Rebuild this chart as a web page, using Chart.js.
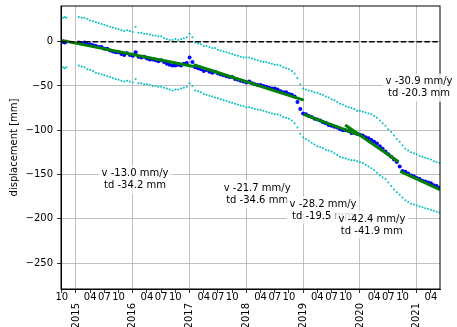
<!DOCTYPE html>
<html>
<head>
<meta charset="utf-8">
<script src="https://cdn.jsdelivr.net/npm/chart.js@4"></script>
<style>
  html, body { margin: 0; padding: 0; background: #fff; }
  #wrap { width: 457px; height: 327px; }
</style>
</head>
<body>
<div id="wrap"><canvas id="chart" width="457" height="327"></canvas></div>
<script>
/* observation dates (decimal year) */
const dates = [2014.77, 2014.80, 2014.83,
  2015.05, 2015.10, 2015.15, 2015.20, 2015.25, 2015.30, 2015.35, 2015.40, 2015.45, 2015.50,
  2015.55, 2015.60, 2015.65, 2015.70, 2015.75, 2015.80, 2015.85, 2015.90, 2015.95,
  2016.00, 2016.05, 2016.10, 2016.15, 2016.20, 2016.25, 2016.30, 2016.35, 2016.40, 2016.45,
  2016.50, 2016.55, 2016.60, 2016.65, 2016.70, 2016.75, 2016.80, 2016.85, 2016.90, 2016.95,
  2017.00, 2017.05, 2017.10, 2017.15, 2017.20, 2017.25, 2017.30, 2017.35, 2017.40, 2017.45,
  2017.50, 2017.55, 2017.60, 2017.65, 2017.70, 2017.75, 2017.80, 2017.85, 2017.90, 2017.95,
  2018.00, 2018.05, 2018.10, 2018.15, 2018.20, 2018.25, 2018.30, 2018.35, 2018.40, 2018.45,
  2018.50, 2018.55, 2018.60, 2018.65, 2018.70, 2018.75, 2018.80, 2018.85, 2018.90, 2018.95,
  2019.00, 2019.05, 2019.10, 2019.15, 2019.20, 2019.25, 2019.30, 2019.35, 2019.40, 2019.45,
  2019.50, 2019.55, 2019.60, 2019.65, 2019.70, 2019.75, 2019.80, 2019.85, 2019.90, 2019.95,
  2020.00, 2020.05, 2020.10, 2020.15, 2020.20, 2020.25, 2020.30, 2020.35, 2020.40, 2020.45,
  2020.50, 2020.55, 2020.60, 2020.65, 2020.70, 2020.75, 2020.80, 2020.85, 2020.90, 2020.95,
  2021.00, 2021.05, 2021.10, 2021.15, 2021.20, 2021.25, 2021.30, 2021.35, 2021.40];

/* displacement [mm] */
const displacement = [0, -1, 0,
  -1, -2, -1, -3, -3, -4, -5, -6, -6, -8, -8, -10, -11, -12, -12, -14, -15, -13, -15,
  -16, -12, -17, -18, -17, -19, -20, -20, -21, -22, -21, -23, -25, -26, -27, -27, -26, -27, -25, -24,
  -18, -23, -29, -30, -31, -33, -32, -34, -35, -34, -36, -37, -38, -39, -40, -40, -42, -43, -44, -45,
  -46, -45, -47, -48, -49, -49, -50, -51, -52, -53, -53, -54, -56, -57, -57, -59, -60, -62, -68, -76,
  -81, -82, -84, -85, -87, -88, -89, -91, -92, -94, -95, -96, -97, -99, -100, -100, -101, -103, -103, -104,
  -105, -106, -108, -109, -111, -113, -115, -118, -121, -124, -127, -130, -133, -136, -141, -146, -147, -149, -151, -152,
  -154, -155, -157, -158, -159, -160, -162, -163, -165];

const upperBand = [27, 28, 27,
  28, 27, 27, 26, 24, 23, 22, 21, 20, 19, 18, 17, 16, 15, 14, 13, 12, 13, 12,
  11, 17, 10, 10, 9, 9, 8, 7, 7, 6, 6, 4, 3, 2, 2, 3, 2, 3, 4, 5,
  9, 5, -1, -2, -3, -5, -5, -6, -7, -7, -9, -10, -11, -12, -13, -14, -15, -16, -17, -18,
  -18, -18, -19, -20, -21, -22, -23, -23, -24, -25, -26, -26, -27, -29, -30, -31, -33, -36, -41, -48,
  -53, -54, -55, -56, -57, -58, -59, -60, -62, -63, -65, -66, -68, -70, -71, -73, -74, -75, -76, -78,
  -78, -79, -80, -81, -82, -84, -86, -89, -92, -95, -99, -102, -106, -110, -113, -117, -121, -123, -125, -126,
  -127, -129, -130, -131, -132, -133, -135, -136, -137];

const lowerBand = [-29, -30, -29,
  -27, -28, -29, -31, -32, -33, -35, -36, -37, -38, -39, -40, -41, -42, -43, -44, -45, -44, -45,
  -46, -42, -47, -47, -48, -48, -49, -50, -50, -51, -51, -52, -53, -54, -55, -54, -54, -53, -52, -51,
  -47, -50, -55, -56, -57, -59, -60, -61, -62, -63, -64, -65, -66, -67, -68, -69, -70, -71, -72, -73,
  -74, -74, -75, -76, -77, -77, -78, -79, -80, -81, -82, -82, -83, -85, -86, -87, -89, -92, -97, -104,
  -108, -110, -112, -114, -116, -118, -119, -120, -122, -123, -124, -126, -128, -130, -131, -132, -133, -134, -134, -135,
  -136, -137, -139, -141, -143, -145, -148, -151, -153, -155, -159, -163, -167, -170, -173, -176, -179, -181, -183, -184,
  -185, -186, -187, -188, -189, -190, -191, -192, -193];

/* linear fits per segment */
const fitStartYear = [2014.75, 2017.07, 2019.01, 2019.74, 2020.71];
const fitEndYear   = [2017.07, 2019.01, 2019.97, 2020.68, 2021.41];
const fitStartVal  = [1.5, -26, -82, -94, -146.5];
const fitEndVal    = [-28, -66, -105, -135.5, -167];

/* annotations */
const annoYear  = [2016.04, 2018.19, 2019.35, 2020.21, 2021.04];
const annoVal   = [-156, -172, -190.5, -207, -52];
const annoLine1 = ['v -13.0 mm/y', 'v -21.7 mm/y', 'v -28.2 mm/y', 'v -42.4 mm/y', 'v -30.9 mm/y'];
const annoLine2 = ['td -34.2 mm', 'td -34.6 mm', 'td -19.5 mm', 'td -41.9 mm', 'td -20.3 mm'];

/* axis ticks */
const xTickDates = ['2014-10',
  '2015-01', '2015-04', '2015-07', '2015-10',
  '2016-01', '2016-04', '2016-07', '2016-10',
  '2017-01', '2017-04', '2017-07', '2017-10',
  '2018-01', '2018-04', '2018-07', '2018-10',
  '2019-01', '2019-04', '2019-07', '2019-10',
  '2020-01', '2020-04', '2020-07', '2020-10',
  '2021-01', '2021-04'];
const yTicks = [0, -50, -100, -150, -200, -250];

const FONT = '"DejaVu Sans", Arial, sans-serif';
Chart.defaults.color = '#000';
Chart.defaults.font.family = FONT;
Chart.defaults.font.size = 10;

const X_MIN = 2014.736, X_MAX = 2021.41;

function toYear(s) {
  const [y, m] = s.split('-').map(Number);
  return y + (m - 1) / 12;
}
const xTickVals = xTickDates.map(toYear);
const isYear = v => Math.abs(v - Math.round(v)) < 1e-6;
const yearTickVals = xTickVals.filter(isYear);

const pts = vals => dates.map((d, i) => ({ x: d, y: vals[i] }));

const fitSets = fitStartYear.map((x0, i) => ({
  type: 'line',
  data: [{ x: x0, y: fitStartVal[i] }, { x: fitEndYear[i], y: fitEndVal[i] }],
  borderColor: '#008000',
  borderWidth: 3,
  pointRadius: 0,
  showLine: true,
  order: 0
}));

const noPad = s => { s.paddingTop = 0; s.paddingBottom = 0; s.paddingLeft = 0; s.paddingRight = 0; };

/* zero line, frame, month labels and text boxes */
const extras = {
  id: 'extras',
  afterDatasetsDraw(chart) {
    const { ctx, chartArea: a, scales } = chart;
    const y0 = scales.y.getPixelForValue(0);
    ctx.save();
    ctx.beginPath();
    ctx.rect(a.left, a.top, a.right - a.left, a.bottom - a.top);
    ctx.clip();
    ctx.strokeStyle = '#000';
    ctx.lineWidth = 1.5;
    ctx.setLineDash([5.5, 2.4]);
    ctx.beginPath();
    ctx.moveTo(a.left, y0);
    ctx.lineTo(a.right, y0);
    ctx.stroke();
    ctx.restore();
  },
  afterDraw(chart) {
    const { ctx, chartArea: a, scales } = chart;
    ctx.save();
    ctx.strokeStyle = '#000';
    ctx.lineWidth = 1;
    ctx.strokeRect(a.left, a.top, a.right - a.left, a.bottom - a.top);
    ctx.font = '10px ' + FONT;
    ctx.fillStyle = '#000';
    // month labels
    ctx.textAlign = 'center';
    ctx.textBaseline = 'top';
    xTickVals.forEach((v, i) => {
      if (isYear(v)) return;
      ctx.fillText(xTickDates[i].slice(5), scales.x.getPixelForValue(v), a.bottom + 3.5);
    });
    // text boxes
    ctx.textBaseline = 'middle';
    annoYear.forEach((yr, i) => {
      const cx = scales.x.getPixelForValue(yr);
      const cy = scales.y.getPixelForValue(annoVal[i]);
      const w = Math.max(ctx.measureText(annoLine1[i]).width, ctx.measureText(annoLine2[i]).width);
      ctx.fillStyle = 'rgba(255,255,255,0.8)';
      ctx.fillRect(cx - w / 2 - 3, cy - 14, w + 6, 28);
      ctx.fillStyle = '#000';
      ctx.fillText(annoLine1[i], cx, cy - 6);
      ctx.fillText(annoLine2[i], cx, cy + 6);
    });
    ctx.restore();
  }
};

new Chart(document.getElementById('chart'), {
  type: 'scatter',
  data: {
    datasets: [
      ...fitSets,
      { data: pts(displacement), backgroundColor: '#0000ff', borderColor: '#0000ff', pointRadius: 2, borderWidth: 0, order: 1 },
      { data: pts(upperBand), backgroundColor: '#00bfbf', borderColor: '#00bfbf', pointRadius: 1, borderWidth: 0, order: 2 },
      { data: pts(lowerBand), backgroundColor: '#00bfbf', borderColor: '#00bfbf', pointRadius: 1, borderWidth: 0, order: 2 }
    ]
  },
  options: {
    responsive: false,
    animation: false,
    devicePixelRatio: 1,
    layout: { padding: { left: 0, right: 17, top: 6, bottom: 0 } },
    plugins: { legend: { display: false }, tooltip: { enabled: false } },
    scales: {
      x: {
        type: 'linear',
        position: 'bottom',
        min: X_MIN,
        max: X_MAX,
        afterBuildTicks: s => { s.ticks = xTickVals.map(v => ({ value: v })); },
        afterFit: s => { s.height = 1; noPad(s); },
        ticks: { display: false, autoSkip: false, maxRotation: 0, minRotation: 0 },
        grid: {
          color: c => (c.tick && isYear(c.tick.value)) ? '#b0b0b0' : 'rgba(0,0,0,0)',
          tickColor: '#000',
          tickLength: 4,
          lineWidth: 0.8
        },
        border: { color: '#000', width: 1 }
      },
      xYear: {
        type: 'linear',
        position: 'bottom',
        min: X_MIN,
        max: X_MAX,
        afterBuildTicks: s => { s.ticks = yearTickVals.map(v => ({ value: v })); },
        afterFit: s => { s.height = 37; noPad(s); },
        ticks: {
          autoSkip: false,
          minRotation: 90,
          maxRotation: 90,
          padding: 5,
          callback: v => String(Math.round(v))
        },
        grid: { display: false },
        border: { display: false }
      },
      y: {
        min: -279.3,
        max: 40.3,
        afterBuildTicks: s => { s.ticks = yTicks.map(v => ({ value: v })); },
        afterFit: s => { s.width = 61; noPad(s); },
        ticks: {
          padding: 4,
          callback: v => String(v).replace('-', '\u2212')
        },
        grid: { color: '#b0b0b0', tickColor: '#000', tickLength: 4, lineWidth: 0.8 },
        border: { color: '#000', width: 1 },
        title: { display: true, text: 'displacement [mm]', padding: { top: 8, bottom: 0 }, font: { size: 10 } }
      }
    }
  },
  plugins: [extras]
});
</script>
</body>
</html>
